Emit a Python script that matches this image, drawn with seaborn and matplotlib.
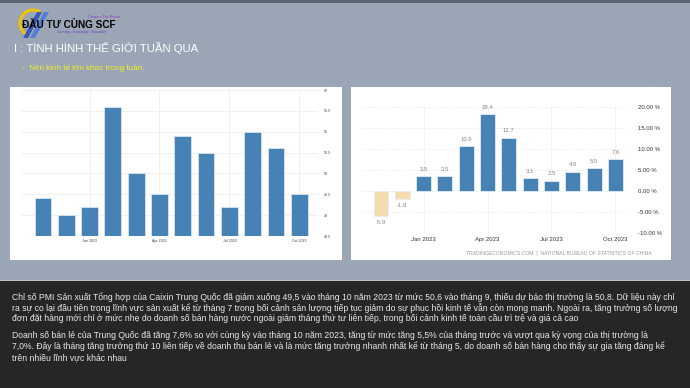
import matplotlib.pyplot as plt
import seaborn as sns
from matplotlib.patches import Rectangle, Arc, Polygon

# du lieu
months = ['Nov 2022', 'Dec 2022', 'Jan 2023', 'Feb 2023', 'Mar 2023', 'Apr 2023',
          'May 2023', 'Jun 2023', 'Jul 2023', 'Aug 2023', 'Sep 2023', 'Oct 2023']
pmi = [49.4, 49.0, 49.2, 51.6, 50.0, 49.5, 50.9, 50.5, 49.2, 51.0, 50.6, 49.5]
retail = [-5.9, -1.8, 3.5, 3.5, 10.6, 18.4, 12.7, 3.1, 2.5, 4.6, 5.5, 7.6]
pmi_ticks = [48.5, 49, 49.5, 50, 50.5, 51, 51.5, 52]
pmi_ticklabels = ['48.5', '49', '49.5', '50', '50.5', '51', '51.5', '52']
retail_ticks = [-10, -5, 0, 5, 10, 15, 20]
quarter_idx = [2, 5, 8, 11]
quarter_labels = ['Jan 2023', 'Apr 2023', 'Jul 2023', 'Oct 2023']

title = 'I : TÌNH HÌNH THẾ GIỚI TUẦN QUA'
subtitle = '-  Nền kinh tế lớn khác trong tuần.'
para1 = [
    'Chỉ số PMI Sản xuất Tổng hợp của Caixin Trung Quốc đã giảm xuống 49,5 vào tháng 10 năm 2023 từ mức 50,6 vào tháng 9, thiếu dự báo thị trường là 50,8. Dữ liệu này chỉ',
    'ra sự co lại đầu tiên trong lĩnh vực sản xuất kể từ tháng 7 trong bối cảnh sản lượng tiếp tục giảm do sự phục hồi kinh tế vẫn còn mong manh. Ngoài ra, tăng trưởng số lượng',
    'đơn đặt hàng mới chỉ ở mức nhẹ do doanh số bán hàng nước ngoài giảm tháng thứ tư liên tiếp, trong bối cảnh kinh tế toàn cầu trì trệ và giá cả cao',
]
para2 = [
    'Doanh số bán lẻ của Trung Quốc đã tăng 7,6% so với cùng kỳ vào tháng 10 năm 2023, tăng từ mức tăng 5,5% của tháng trước và vượt qua kỳ vọng của thị trường là',
    '7,0%. Đây là tháng tăng trưởng thứ 10 liên tiếp về doanh thu bán lẻ và là mức tăng trưởng nhanh nhất kể từ tháng 5, do doanh số bán hàng cho thấy sự gia tăng đáng kể',
    'trên nhiều lĩnh vực khác nhau',
]

W, H = 690, 388
def fx(x):
    return x / W
def fy(y):
    return 1 - y / H

sns.set_style('white')
plt.rcParams['font.family'] = ['Liberation Sans', 'DejaVu Sans']

fig = plt.figure(figsize=(6.9, 3.88), dpi=100)
fig.patch.set_facecolor('#9aa6b5')

def bg(x, y, w, h, color):
    fig.patches.append(Rectangle((x, y), w, h, transform=fig.transFigure,
                                 facecolor=color, edgecolor='none', zorder=-10))

# nen
bg(0, 0, 1, fy(280), '#262626')
bg(0, fy(281), 1, 1 / H, '#b8c0ca')
bg(0, fy(3), 1, 3 / H, '#5a6470')
for x0, x1 in [(10, 342), (351, 671)]:
    bg(fx(x0), fy(260), fx(x1 - x0), (260 - 87) / H, 'white')

# logo
fig.patches.append(Arc((fx(33), fy(23)), 26 / W, 26 / H, theta1=70, theta2=250,
                       transform=fig.transFigure, color='#f2c200', lw=2.2, zorder=-5))
for dx, col in [(0, '#2f4fb8'), (7, '#4a7ad8')]:
    fig.patches.append(Polygon([(fx(23 + dx), fy(38)), (fx(28 + dx), fy(38)),
                                (fx(42 + dx), fy(12)), (fx(37 + dx), fy(12))],
                               closed=True, transform=fig.transFigure,
                               facecolor=col, edgecolor='none', alpha=0.9, zorder=-5))
fig.text(fx(22), fy(25), 'ĐẦU TƯ CÙNG SCF', fontsize=7.2, fontweight='bold',
         color='black', va='center')
fig.text(fx(88), fy(17), 'Conquer The Master', fontsize=2.5, color='#8a3fc0', va='center')
fig.text(fx(57), fy(32.5), 'Investing - Knowledge - Education', fontsize=2.3,
         color='#7040c0', va='center')

fig.text(fx(14), fy(48), title, fontsize=8.2, color='white', va='center')
fig.text(fx(22), fy(68), subtitle, fontsize=5.9, color='#f0f020', va='center')

# bieu do PMI
ax1 = fig.add_axes([fx(21), fy(236), fx(318 - 21), (236 - 90) / H])
sns.barplot(x=months, y=pmi, color='#4682b4', saturation=1, width=0.72,
            edgecolor='#d5e3f0', linewidth=0.6, ax=ax1, zorder=3)
ax1.set_ylim(48.5, 52)
ax1.set_xlim(-0.94, 11.8)
ax1.yaxis.tick_right()
ax1.set_yticks(pmi_ticks)
ax1.set_yticklabels(pmi_ticklabels)
ax1.set_xticks(quarter_idx)
ax1.set_xticklabels(quarter_labels)
ax1.tick_params(axis='both', labelsize=2.6, colors='#444444', length=0, pad=2)
ax1.tick_params(axis='y', pad=4)
ax1.grid(True, color='#ececec', lw=0.5)
ax1.set_xlabel('')
ax1.set_ylabel('')
for s in ax1.spines.values():
    s.set_visible(False)

# bieu do ban le
colors = ['#f5dcae' if v < 0 else '#4682b4' for v in retail]
ax2 = fig.add_axes([fx(362), fy(233), fx(625 - 362), (233 - 107) / H])
sns.barplot(x=months, y=retail, hue=months, palette=colors, legend=False,
            saturation=1, width=0.70, edgecolor='#e3ecf5', linewidth=0.6,
            ax=ax2, zorder=3)
ax2.set_ylim(-10, 20)
ax2.set_xlim(-0.89, 11.45)
ax2.yaxis.tick_right()
ax2.set_yticks(retail_ticks)
ax2.set_yticklabels([f'{t:.2f} %' for t in retail_ticks])
ax2.set_xticks(quarter_idx)
ax2.set_xticklabels(quarter_labels)
ax2.tick_params(axis='both', labelsize=4.3, colors='#333333', length=0)
ax2.tick_params(axis='y', pad=9)
ax2.tick_params(axis='x', pad=3)
ax2.grid(True, axis='y', color='#dddddd', lw=0.5, ls=':')
ax2.grid(True, axis='x', color='#eeeeee', lw=0.5)
ax2.set_xlabel('')
ax2.set_ylabel('')
for s in ax2.spines.values():
    s.set_visible(False)
for i, v in enumerate(retail):
    off = 1.0 if v >= 0 else -1.0
    ax2.text(i, v + off, f'{v:.1f}', ha='center', va='bottom' if v >= 0 else 'top',
             fontsize=4.3, color='#888888', clip_on=False)
fig.text(fx(652), fy(253), 'TRADINGECONOMICS.COM  |  NATIONAL BUREAU OF STATISTICS OF CHINA',
         fontsize=3.7, color='#999999', ha='right', va='center')

# doan van
for k, line in enumerate(para1):
    fig.text(fx(12), fy(297 + 10.6 * k), line, fontsize=6.2, color='#e8e8e8', va='center')
for k, line in enumerate(para2):
    fig.text(fx(12), fy(336 + 10.6 * k), line, fontsize=6.2, color='#e8e8e8', va='center')

fig.savefig('out.png', dpi=100, facecolor=fig.get_facecolor())
